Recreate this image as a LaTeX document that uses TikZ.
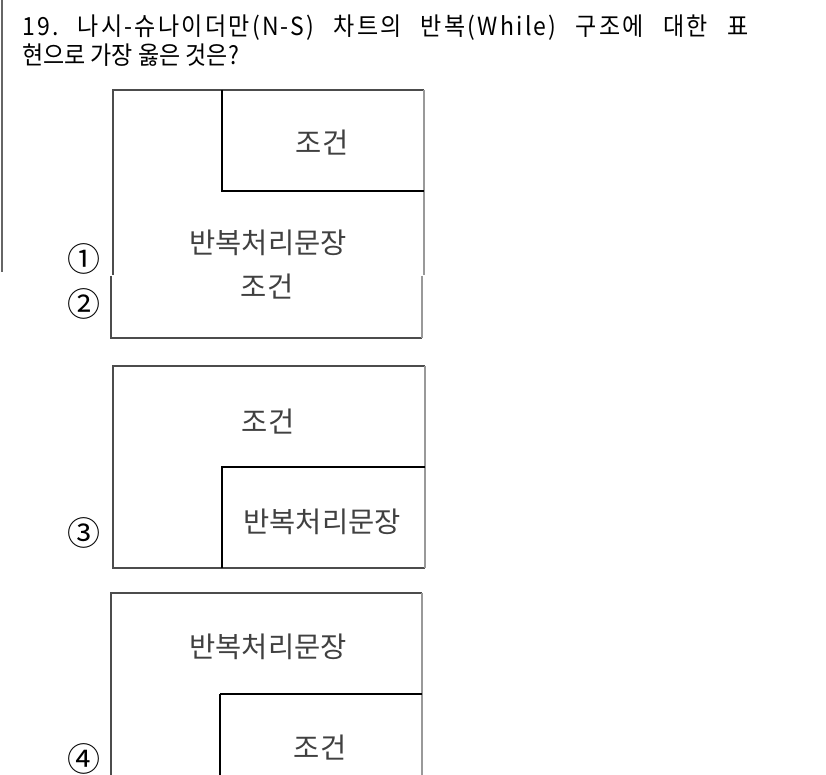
\documentclass[tikz,border=0pt]{standalone}
\usepackage{fontspec}
\setmainfont{Noto Sans CJK KR}
\newfontfamily\titlefont[FakeStretch=0.92]{Noto Sans CJK KR}
\usepackage{tikz}
\usetikzlibrary{positioning}

\begin{document}
\frenchspacing
\begin{tikzpicture}[x=1pt, y=-1pt,
  frame/.style={line width=1.4pt, black!70},
  rside/.style={line width=1.8pt, black!40},
  inner/.style={line width=1.6pt, black},
  title/.style={anchor=base west, inner sep=0pt, font=\titlefont\fontsize{25}{29}\selectfont},
  boxtext/.style={inner sep=0pt, text=black!75, font=\fontsize{28.5}{32}\selectfont},
  num/.style={inner sep=0pt, font=\fontsize{33}{35}\selectfont}]
\useasboundingbox (0,0) rectangle (826,775);
% question
\draw[line width=1.2pt, black!60] (2,0) -- (2,272);
\node[title] (q1) at (22,36) {\addfontfeature{LetterSpace=9}\makebox[726pt][s]{19. 나시-슈나이더만(N-S) 차트의 반복(While) 구조에 대한 표}};
\node[title] (q2) at (22,64.5) {현으로 가장 옳은 것은?};
% choice 1 and 2
\draw[frame] (113,275) -- (113,90) -- (424,90);
\draw[rside] (424,90) -- (424,275);
\draw[inner] (222,90) -- (222,191) -- (424,191);
\node[boxtext] (c1) at (322,143) {조건};
\node[boxtext] (s1) at (268,243) {반복처리문장};
\node[num] (n1) at (84,259) {①};
\draw[frame] (111,276) -- (111,338) -- (422,338);
\draw[rside] (422,276) -- (422,338);
\node[boxtext] (c2) at (267,287) {조건};
\node[num] (n2) at (84,304) {②};
% choice 3
\draw[frame] (425,366) -- (113,366) -- (113,568) -- (425,568);
\draw[rside] (425,366) -- (425,568);
\draw[inner] (425,467) -- (222,467) -- (222,568);
\node[boxtext] (c3) at (268,422) {조건};
\node[boxtext] (s3) at (322,522) {반복처리문장};
\node[num] (n3) at (84,533) {③};
% choice 4
\draw[frame] (111,775) -- (111,593) -- (422,593);
\draw[rside] (422,593) -- (422,775);
\draw[inner, line width=2.4pt] (422,694) -- (220,694);
\draw[inner] (220,694) -- (220,775);
\node[boxtext] (s4) at (268,647) {반복처리문장};
\node[boxtext] (c4) at (320,748) {조건};
\node[num] (n4) at (84,759) {④};
\end{tikzpicture}
\end{document}
